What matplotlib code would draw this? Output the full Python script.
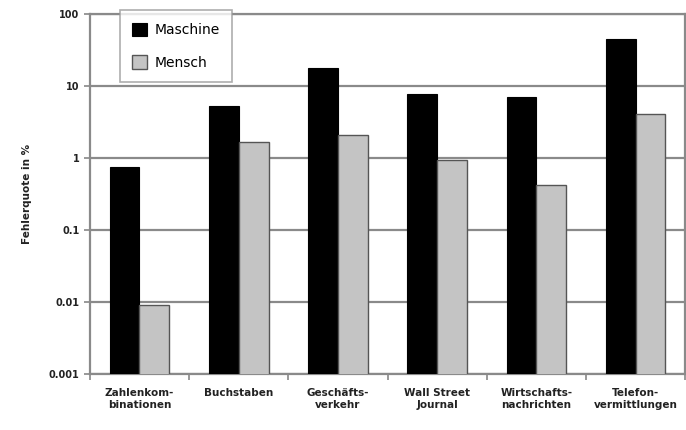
import matplotlib
matplotlib.use("Agg")
import matplotlib.pyplot as plt
import numpy as np

categories = [
    "Zahlenkom-\nbinationen",
    "Buchstaben",
    "Geschäfts-\nverkehr",
    "Wall Street\nJournal",
    "Wirtschafts-\nnachrichten",
    "Telefon-\nvermittlungen",
]
maschine = [0.75, 5.3, 18.0, 7.7, 7.0, 45.0]
mensch = [0.009, 1.7, 2.1, 0.95, 0.42, 4.1]
y_ticks = [0.001, 0.01, 0.1, 1, 10, 100]
y_labels = ["0.001", "0.01", "0.1", "1", "10", "100"]

fig = plt.figure(figsize=(6.86, 4.30), dpi=100)
ax = fig.add_axes([0.131, 0.130, 0.868, 0.837])

x = np.arange(len(categories))
w = 0.30
ax.bar(x - w / 2, maschine, width=w, color="black", edgecolor="black",
       linewidth=0.8, label="Maschine", zorder=3)
ax.bar(x + w / 2, mensch, width=w, color="#c4c4c4", edgecolor="#555555",
       linewidth=1.0, label="Mensch", zorder=3)

ax.set_yscale("log")
ax.set_ylim(0.001, 100)
ax.set_xlim(-0.5, len(categories) - 0.5)
ax.set_yticks(y_ticks)
ax.set_yticklabels(y_labels)
ax.yaxis.set_minor_locator(matplotlib.ticker.NullLocator())
ax.grid(axis="y", color="#8a8a8a", linewidth=1.6, zorder=0)

ax.set_xticks(x)
ax.set_xticklabels(categories, fontsize=7.5, fontweight="bold", color="#222222",
                   linespacing=1.3)
ax.set_xticks(np.arange(len(categories) + 1) - 0.5, minor=True)
ax.tick_params(axis="x", which="major", length=0, pad=10)
ax.tick_params(axis="x", which="minor", length=4, color="#888888", width=1.2)
ax.tick_params(axis="y", length=4, color="#888888", width=1.2, labelsize=7,
               labelcolor="#222222")
for lbl in ax.get_yticklabels():
    lbl.set_fontweight("bold")

for side in ["left", "bottom", "right", "top"]:
    ax.spines[side].set_color("#8a8a8a")
    ax.spines[side].set_linewidth(1.6)

ax.set_ylabel("Fehlerquote in %", fontsize=7.5, fontweight="bold",
              color="#222222", labelpad=12)

# legend box sits on top of the upper gridline, slightly above the frame
leg = ax.legend(loc="upper left", bbox_to_anchor=(0.05, 1.011), fontsize=10,
                frameon=True, fancybox=False, edgecolor="#999999",
                handlelength=1.1, handleheight=1.1, labelspacing=1.3,
                borderpad=0.9, handletextpad=0.5, borderaxespad=0)
leg.get_frame().set_linewidth(1.2)
leg.set_zorder(5)

fig.savefig("out.png", dpi=100)
